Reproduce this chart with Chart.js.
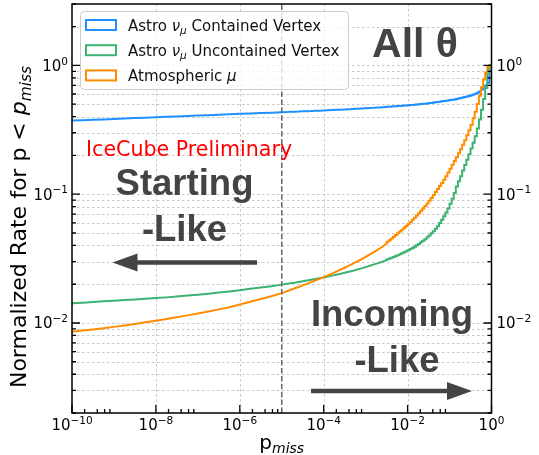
<!DOCTYPE html>
<html>
<head>
<meta charset="utf-8">
<script src="https://cdn.jsdelivr.net/npm/chart.js@4.4.1/dist/chart.umd.min.js"></script>
<style>
  html, body { margin: 0; padding: 0; background: #ffffff; }
  #wrap { width: 539px; height: 455px; }
</style>
</head>
<body>
<div id="wrap"><canvas id="c" width="539" height="455"></canvas></div>
<script>
// log10 of the p_miss bin edges
const logPMiss = [
  -10, -9.75, -9.5, -9.25, -9, -8.75, -8.5, -8.25, -8, -7.75,
  -7.5, -7.25, -7, -6.75, -6.5, -6.25, -6, -5.75, -5.5, -5.25,
  -5, -4.9, -4.8, -4.7, -4.6, -4.5, -4.4, -4.3, -4.2, -4.1,
  -4, -3.9, -3.8, -3.7, -3.6, -3.5, -3.4, -3.3, -3.2, -3.1,
  -3, -2.9, -2.8, -2.7, -2.6,
  -2.5, -2.45, -2.4, -2.35, -2.3, -2.25, -2.2, -2.15, -2.1, -2.05,
  -2, -1.95, -1.9, -1.85, -1.8, -1.75, -1.7, -1.65, -1.6, -1.55,
  -1.5, -1.45, -1.4, -1.35, -1.3, -1.25, -1.2, -1.15, -1.1, -1.05,
  -1, -0.95, -0.9, -0.85, -0.8, -0.75, -0.7, -0.65, -0.6, -0.55,
  -0.5, -0.45, -0.4, -0.35, -0.3, -0.25, -0.2, -0.15, -0.1, -0.05,
  0
];

// first edge (log10 p_miss) from which the histogram steps are drawn
const stepFromLogP = -2.5;

// cumulative normalized rate for p < p_miss
const astroContained = [
  0.373, 0.376, 0.379, 0.381, 0.384, 0.387, 0.390, 0.393, 0.396, 0.399,
  0.402, 0.405, 0.408, 0.411, 0.414, 0.418, 0.421, 0.424, 0.427, 0.430,
  0.433, 0.434, 0.436, 0.437, 0.438, 0.440, 0.441, 0.442, 0.444, 0.445,
  0.446, 0.448, 0.450, 0.452, 0.453, 0.455, 0.457, 0.459, 0.461, 0.463,
  0.465, 0.467, 0.469, 0.472, 0.474,
  0.476, 0.477, 0.478, 0.480, 0.481, 0.482, 0.484, 0.485, 0.486, 0.488,
  0.489, 0.491, 0.492, 0.494, 0.496, 0.497, 0.499, 0.501, 0.503, 0.505,
  0.507, 0.510, 0.512, 0.515, 0.518, 0.520, 0.523, 0.526, 0.529, 0.532,
  0.535, 0.538, 0.542, 0.545, 0.549, 0.553, 0.558, 0.563, 0.568, 0.574,
  0.580, 0.587, 0.594, 0.603, 0.613, 0.627, 0.650, 0.672, 0.700, 0.735,
  1.0
];

const astroUncontained = [
  0.01422, 0.01439, 0.01455, 0.01472, 0.01489, 0.01507, 0.01524, 0.01542, 0.01560, 0.01581,
  0.01607, 0.01633, 0.01660, 0.01690, 0.01722, 0.01758, 0.01799, 0.01841, 0.01884, 0.01932,
  0.01986, 0.02009, 0.02032, 0.02056, 0.02084, 0.02109, 0.02138, 0.02168, 0.02198, 0.02228,
  0.02259, 0.02296, 0.02333, 0.02371, 0.02410, 0.02455, 0.02500, 0.02547, 0.02600, 0.02655,
  0.02716, 0.02780, 0.02851, 0.02917, 0.02992,
  0.03076, 0.03119, 0.03162, 0.03206, 0.03258, 0.03311, 0.03365, 0.03420, 0.03483, 0.03548,
  0.03606, 0.03673, 0.03750, 0.03828, 0.03917, 0.04009, 0.04111, 0.04227, 0.04345, 0.04477,
  0.04624, 0.04786, 0.04966, 0.05164, 0.05395, 0.05649, 0.05970, 0.06324, 0.06730, 0.07211,
  0.07762, 0.08414, 0.0923, 0.102, 0.115, 0.1259, 0.1380, 0.1531, 0.1687, 0.1854,
  0.2042, 0.2265, 0.2512, 0.2818, 0.3236, 0.3802, 0.4519, 0.5495, 0.6683, 0.881,
  1.0
];

const atmosphericMu = [
  0.00855, 0.00873, 0.00891, 0.00912, 0.00933, 0.00957, 0.00984, 0.01012, 0.01042, 0.01074,
  0.01109, 0.01146, 0.01186, 0.01230, 0.01276, 0.01327, 0.01393, 0.01462, 0.01535, 0.01614,
  0.01706, 0.01754, 0.01803, 0.01854, 0.01905, 0.01959, 0.02014, 0.02075, 0.02138, 0.02203,
  0.02270, 0.02344, 0.02421, 0.02506, 0.02594, 0.02685, 0.02786, 0.02891, 0.03006, 0.03126,
  0.03258, 0.03404, 0.03556, 0.03724, 0.03908,
  0.04140, 0.04266, 0.04395, 0.04529, 0.04667, 0.04819, 0.04977, 0.05140, 0.05309, 0.05483,
  0.05675, 0.05875, 0.06095, 0.06324, 0.06577, 0.06839, 0.07129, 0.07430, 0.07745, 0.08091,
  0.08472, 0.08892, 0.09354, 0.09863, 0.1040, 0.1096, 0.1156, 0.1222, 0.1294, 0.1380,
  0.1476, 0.1578, 0.1690, 0.1811, 0.1941, 0.2080, 0.2239, 0.2421, 0.2630, 0.2871,
  0.3141, 0.3451, 0.3890, 0.4365, 0.5012, 0.5821, 0.6761, 0.7762, 0.8770, 0.977,
  1.0
];

const seriesNames = ['Astro ν_μ Contained Vertex', 'Astro ν_μ Uncontained Vertex', 'Atmospheric μ'];
const seriesColors = ['#1E90FF', '#3CB371', '#FF8C00'];

// axis ticks (exponents of 10, and sub-decade multipliers)
const xMajorExp = [-10, -8, -6, -4, -2, 0];
const xMinorSubs = [2, 4, 6, 8];
const yDecadeExp = [-3, -2, -1, 0];
const yMinorSubs = [2, 3, 4, 5, 6, 7, 8, 9];
const yLabelExp = [-2, -1, 0];

const cutPMiss = 1e-5;   // vertical reference line

const INK = '#444444';
const FONT = '"DejaVu Sans"';

function toPoints(values, fromLogP, toLogP) {
  const pts = [];
  logPMiss.forEach((e, i) => {
    if (e >= fromLogP && e <= toLogP) pts.push({ x: Math.pow(10, e), y: values[i] });
  });
  return pts;
}

// rich text: segments {t, it, sub, sup}
function segFont(s, base) {
  const sz = (s.sub || s.sup) ? base * 0.7 : base;
  return (s.it ? 'italic ' : '') + sz + 'px ' + FONT;
}
function richWidth(ctx, segs, base) {
  let w = 0;
  for (const s of segs) { ctx.font = segFont(s, base); w += ctx.measureText(s.t).width; }
  return w;
}
function drawRich(ctx, segs, x, y, base, align) {
  const w = richWidth(ctx, segs, base);
  let cx = align === 'center' ? x - w / 2 : align === 'right' ? x - w : x;
  ctx.textAlign = 'left';
  ctx.textBaseline = 'alphabetic';
  for (const s of segs) {
    ctx.font = segFont(s, base);
    const dy = s.sub ? base * 0.22 : s.sup ? -base * 0.42 : 0;
    ctx.fillText(s.t, cx, y + dy);
    cx += ctx.measureText(s.t).width;
  }
}
// "Astro ν_μ ..." -> segments, Greek letters in italic, "_x" as subscript
function parseLabel(str) {
  const segs = [];
  const greek = /[α-ωΑ-Ω]/;
  for (let i = 0; i < str.length; i++) {
    let ch = str[i], sub = false;
    if (ch === '_' && i + 1 < str.length) { ch = str[++i]; sub = true; }
    const it = greek.test(ch);
    const last = segs[segs.length - 1];
    if (last && last.it === it && last.sub === sub) last.t += ch;
    else segs.push({ t: ch, it: it, sub: sub });
  }
  return segs;
}
function powSegs(e) {
  return [{ t: '10' }, { t: e === 0 ? '0' : '\u2212' + Math.abs(e), sup: true }];
}

function arrow(ctx, x0, x1, y, shaft, headLen, headW) {
  const dir = Math.sign(x1 - x0);
  const hb = x1 - dir * headLen;
  ctx.beginPath();
  ctx.moveTo(x0, y - shaft / 2);
  ctx.lineTo(hb, y - shaft / 2);
  ctx.lineTo(hb, y - headW / 2);
  ctx.lineTo(x1, y);
  ctx.lineTo(hb, y + headW / 2);
  ctx.lineTo(hb, y + shaft / 2);
  ctx.lineTo(x0, y + shaft / 2);
  ctx.closePath();
  ctx.fill();
}

const framePlugin = {
  id: 'frame',
  beforeDatasetsDraw(chart) {
    const { ctx, chartArea: a, scales: { x, y } } = chart;
    ctx.save();
    ctx.strokeStyle = '#c8c8c8';
    ctx.lineWidth = 1;
    ctx.setLineDash([2.5, 2.5]);
    for (const e of yDecadeExp) {
      for (const m of [1].concat(yMinorSubs)) {
        const v = m * Math.pow(10, e);
        if (v <= y.min || v >= y.max) continue;
        const py = Math.round(y.getPixelForValue(v)) + 0.5;
        ctx.beginPath(); ctx.moveTo(a.left, py); ctx.lineTo(a.right, py); ctx.stroke();
      }
    }
    for (const e of xMajorExp) {
      const px = Math.round(x.getPixelForValue(Math.pow(10, e))) + 0.5;
      if (px <= a.left + 1 || px >= a.right - 1) continue;
      ctx.beginPath(); ctx.moveTo(px, a.top); ctx.lineTo(px, a.bottom); ctx.stroke();
    }
    ctx.restore();
  },
  afterDatasetsDraw(chart) {
    const { ctx, chartArea: a, scales: { x, y } } = chart;
    ctx.save();

    // reference line at the p_miss cut
    const cx = x.getPixelForValue(cutPMiss);
    ctx.strokeStyle = '#666666';
    ctx.lineWidth = 1.5;
    ctx.setLineDash([5.5, 2.4]);
    ctx.beginPath(); ctx.moveTo(cx, a.bottom); ctx.lineTo(cx, a.top); ctx.stroke();
    ctx.setLineDash([]);

    // annotations
    ctx.fillStyle = 'red';
    ctx.font = '20.6px ' + FONT;
    ctx.textAlign = 'left';
    ctx.textBaseline = 'alphabetic';
    ctx.fillText('IceCube Preliminary', 86, 156);

    ctx.fillStyle = INK;
    ctx.textAlign = 'center';
    ctx.font = 'bold 41px "Liberation Sans"';
    ctx.fillText('All θ', 415, 57);
    ctx.font = 'bold 36.5px "Liberation Sans"';
    ctx.fillText('Starting', 184.5, 195);
    ctx.fillText('-Like', 184.5, 241);
    ctx.fillText('Incoming', 392, 326);
    ctx.fillText('-Like', 397, 372);

    arrow(ctx, 257, 112.5, 262.5, 4.6, 25, 18);
    arrow(ctx, 311, 472, 391, 4.4, 25, 18);

    // spines
    ctx.strokeStyle = '#000';
    ctx.lineWidth = 1.5;
    ctx.strokeRect(a.left, a.top, a.right - a.left, a.bottom - a.top);

    // ticks (inward)
    ctx.lineWidth = 1.3;
    ctx.beginPath();
    for (const e of yDecadeExp) {
      for (const m of [1].concat(yMinorSubs)) {
        const v = m * Math.pow(10, e);
        if (v < y.min || v > y.max) continue;
        const len = m === 1 ? 8 : 4;
        const py = y.getPixelForValue(v);
        ctx.moveTo(a.left, py); ctx.lineTo(a.left + len, py);
        ctx.moveTo(a.right, py); ctx.lineTo(a.right - len, py);
      }
    }
    for (const e of xMajorExp) {
      for (const m of [1].concat(xMinorSubs)) {
        const v = m * Math.pow(10, e);
        if (v < x.min || v > x.max) continue;
        const len = m === 1 ? 8 : 4;
        const px = x.getPixelForValue(v);
        ctx.moveTo(px, a.bottom); ctx.lineTo(px, a.bottom - len);
      }
    }
    ctx.stroke();

    // tick labels
    ctx.fillStyle = '#000';
    const tsz = 15;
    for (const e of yLabelExp) {
      const py = y.getPixelForValue(Math.pow(10, e)) + 5.5;
      drawRich(ctx, powSegs(e), a.left - 4, py, tsz, 'right');
      drawRich(ctx, powSegs(e), a.right + 5, py, tsz, 'left');
    }
    for (const e of xMajorExp) {
      const px = x.getPixelForValue(Math.pow(10, e));
      drawRich(ctx, powSegs(e), px, a.bottom + 17, tsz, 'center');
    }

    // axis titles
    drawRich(ctx, [{ t: 'p' }, { t: 'miss', it: true, sub: true }],
      (a.left + a.right) / 2, 449, 20, 'center');
    ctx.save();
    ctx.translate(26, 227);
    ctx.rotate(-Math.PI / 2);
    drawRich(ctx, [{ t: 'Normalized Rate for p < ' }, { t: 'p', it: true }, { t: 'miss', it: true, sub: true }],
      0, 0, 22, 'center');
    ctx.restore();

    // legend
    const lx = 80, ly = 11, lw = 268, lh = 78;
    ctx.beginPath();
    ctx.roundRect(lx + 0.5, ly + 0.5, lw, lh, 4);
    ctx.fillStyle = 'rgba(255,255,255,0.8)';
    ctx.fill();
    ctx.strokeStyle = '#cccccc';
    ctx.lineWidth = 1;
    ctx.stroke();
    seriesNames.forEach((name, i) => {
      const cy = 25 + i * 25.2;
      ctx.strokeStyle = seriesColors[i];
      ctx.lineWidth = 2;
      ctx.strokeRect(86, cy - 5, 30, 10);
      ctx.fillStyle = '#111';
      drawRich(ctx, parseLabel(name), 128, cy + 5.5, 15, 'left');
    });

    ctx.restore();
  }
};

// each series: a fine-binned smooth run, then the coarse-binned steps near p_miss = 1
const datasets = [];
[astroContained, astroUncontained, atmosphericMu].forEach((vals, i) => {
  const common = {
    label: seriesNames[i],
    borderColor: seriesColors[i],
    backgroundColor: seriesColors[i],
    borderWidth: 2,
    pointRadius: 0,
    fill: false,
    borderCapStyle: 'round',
    order: 2 - i
  };
  datasets.push(Object.assign({}, common, {
    data: toPoints(vals, -Infinity, stepFromLogP), stepped: false, tension: 0
  }));
  datasets.push(Object.assign({}, common, {
    data: toPoints(vals, stepFromLogP, Infinity), stepped: 'after'
  }));
});

new Chart(document.getElementById('c'), {
  type: 'line',
  data: { datasets: datasets },
  options: {
    responsive: false,
    animation: false,
    devicePixelRatio: 1,
    layout: { padding: { top: 4, right: 47.5, left: 0, bottom: 0 } },
    plugins: { legend: { display: false }, tooltip: { enabled: false } },
    scales: {
      x: {
        type: 'logarithmic', min: 1e-10, max: 1, bounds: 'data',
        grid: { display: false }, border: { display: false }, ticks: { display: false },
        afterFit(s) { s.height = 42; }
      },
      y: {
        type: 'logarithmic', min: 0.002, max: 3, bounds: 'data',
        grid: { display: false }, border: { display: false }, ticks: { display: false },
        afterFit(s) { s.width = 72; }
      }
    }
  },
  plugins: [framePlugin]
});
</script>
</body>
</html>
